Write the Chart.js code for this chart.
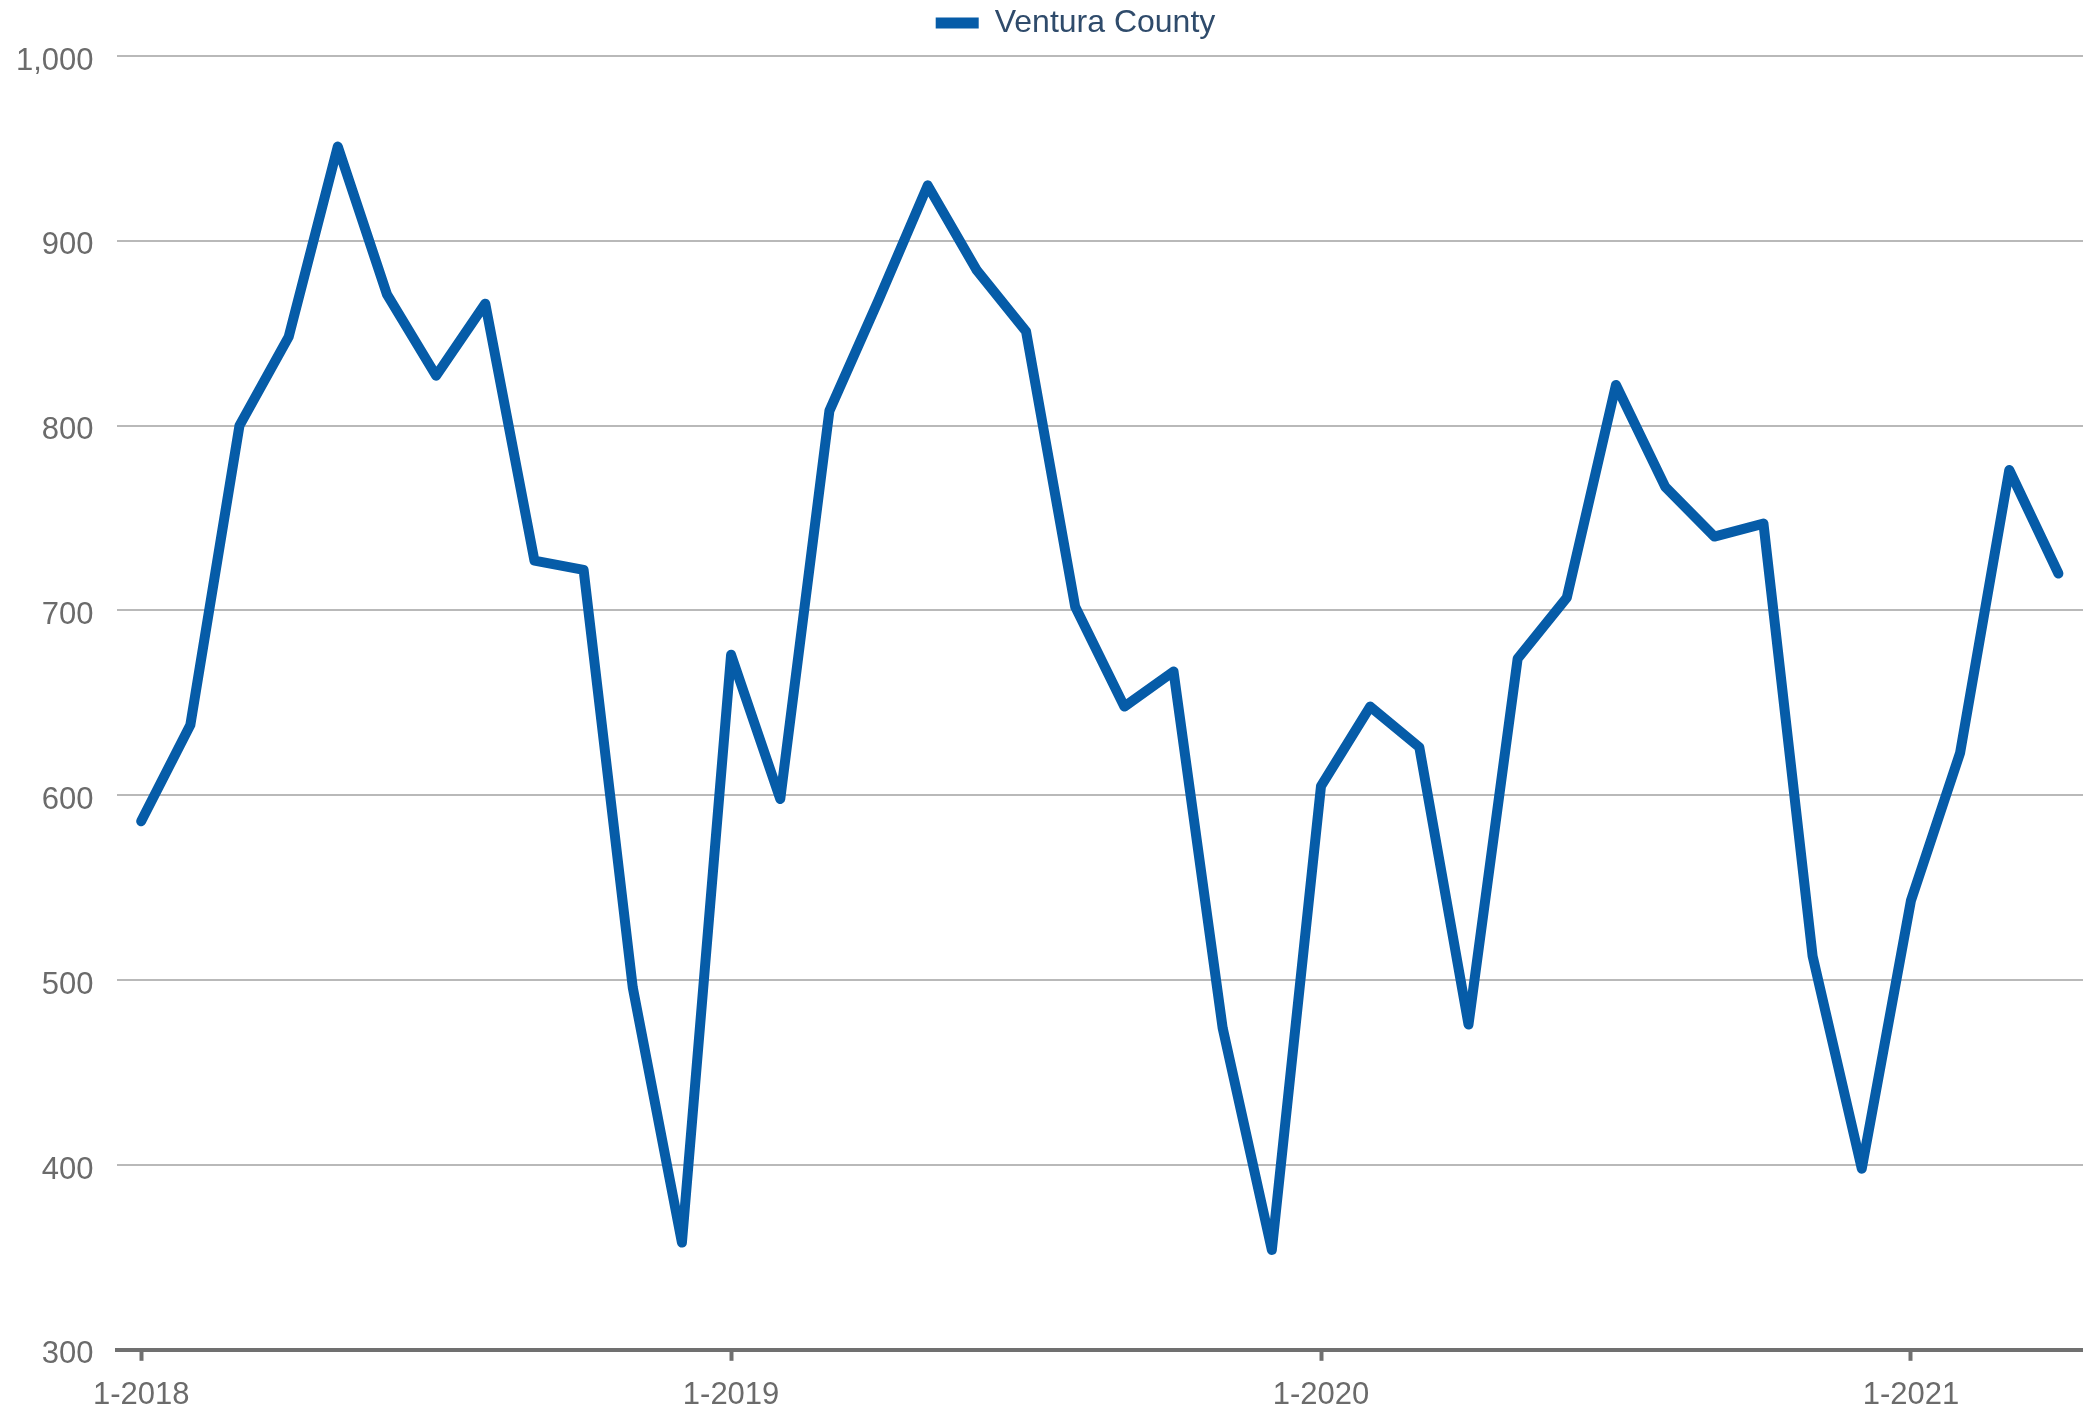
<!DOCTYPE html>
<html>
<head>
<meta charset="utf-8">
<title>Ventura County</title>
<script src="https://cdn.jsdelivr.net/npm/chart.js@4/dist/chart.umd.min.js"></script>
<style>
  html, body { margin: 0; padding: 0; background: #fff; }
  #wrap { width: 2083px; height: 1410px; }
</style>
</head>
<body>
<div id="wrap"><canvas id="myChart" width="2083" height="1410"></canvas></div>
<script>
// monthly labels, Jan 2018 .. Apr 2021
const years = [2018, 2019, 2020, 2021];
const months = [];
years.forEach(function (y) {
  for (let m = 1; m <= 12; m++) months.push(m + '-' + y);
});
const labels = months.slice(0, 40);

// values
const venturaCounty = [
  586, 638, 800, 848, 951, 871, 827, 866, 727, 722, 496, 358,
  676, 598, 808, 868, 930, 884, 851, 702, 648, 667, 474, 354,
  605, 648, 626, 476, 674, 707, 822, 767, 740, 747, 513, 398,
  543, 623, 776, 720
];

const yTicks = { min: 300, max: 1000, step: 100 };

const lineColor = '#065ca8';
const tickGray = '#6b6b6b';
const fontFamily = "'Liberation Sans', Arial, sans-serif";

// legend spacing tweaks (extra height under legend, nudge right)
const legendTweaks = {
  id: 'legendTweaks',
  beforeInit(chart) {
    const fit = chart.legend.fit;
    chart.legend.fit = function () {
      fit.call(this);
      this.height += 7;
    };
  },
  afterLayout(chart) {
    chart.legend.left += 52;
  }
};

const chartConfig = {
  type: 'line',
  data: {
    labels: labels,
    datasets: [{
      label: 'Ventura County',
      data: venturaCounty,
      borderColor: lineColor,
      backgroundColor: lineColor,
      borderWidth: 10,
      pointRadius: 0,
      tension: 0,
      borderJoinStyle: 'round',
      borderCapStyle: 'round'
    }]
  },
  options: {
    responsive: false,
    animation: false,
    layout: { padding: { left: 16, right: 0, top: 0, bottom: 0 } },
    plugins: {
      legend: {
        position: 'top',
        labels: {
          color: '#2f4b6b',
          font: { family: fontFamily, size: 32 },
          boxWidth: 43,
          boxHeight: 11,
          padding: 7,
          generateLabels(chart) {
            return Chart.defaults.plugins.legend.labels.generateLabels(chart)
              .map(function (l) { l.lineWidth = 0; return l; });
          }
        }
      },
      tooltip: { enabled: false }
    },
    scales: {
      x: {
        type: 'category',
        offset: true,
        border: { display: true, color: '#707070', width: 4 },
        grid: {
          offset: false,
          drawOnChartArea: false,
          drawTicks: true,
          tickLength: 11,
          tickWidth: 4,
          tickColor: function (ctx) {
            return ctx.index % 12 === 0 ? '#707070' : 'rgba(0,0,0,0)';
          }
        },
        ticks: {
          autoSkip: false,
          maxRotation: 0,
          padding: 16,
          color: tickGray,
          font: { family: fontFamily, size: 31 },
          callback: function (val, idx) {
            return idx % 12 === 0 ? labels[idx] : '';
          }
        },
        // padding is counted twice in fit(), drop the extra
        afterFit: function (axis) { axis.height -= 20; }
      },
      y: {
        min: yTicks.min,
        max: yTicks.max,
        border: { display: false },
        grid: { color: '#b9b9b9', lineWidth: 2, drawTicks: false },
        ticks: {
          stepSize: yTicks.step,
          padding: 23,
          labelOffset: 5,
          color: tickGray,
          font: { family: fontFamily, size: 31 }
        },
        afterFit: function (axis) { axis.width -= 23; }
      }
    }
  },
  plugins: [legendTweaks]
};

new Chart(document.getElementById('myChart'), chartConfig);
</script>
</body>
</html>
